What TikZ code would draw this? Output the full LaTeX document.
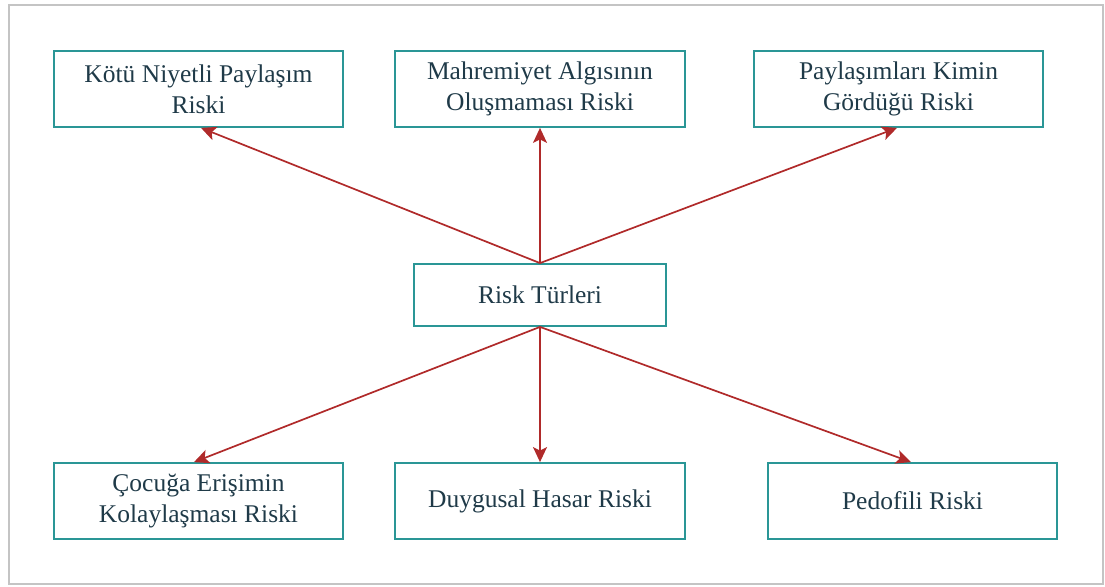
\documentclass[tikz,border=0pt]{standalone}
\usepackage{fontspec}
\setmainfont{Liberation Serif}
\usetikzlibrary{arrows.meta}
\definecolor{boxc}{HTML}{2A9696}
\definecolor{arrc}{HTML}{B02A2A}
\definecolor{txtc}{HTML}{1F3A48}
\definecolor{framec}{HTML}{C4C4C4}
\begin{document}
\begin{tikzpicture}[x=1pt,y=-1pt,
  riskbox/.style={draw=boxc,line width=1.8pt,minimum width=289pt,minimum height=76pt,
    align=center,text=txtc,font=\fontsize{25.5}{31}\selectfont,inner sep=0pt},
  midbox/.style={riskbox,minimum width=290pt},
  centerbox/.style={riskbox,minimum width=252pt,minimum height=62pt},
  arr/.style={draw=arrc,line width=1.7pt,-{Stealth[length=15pt,width=14pt,inset=3.5pt]}}]
\useasboundingbox (0,0) rectangle (1105,586);
\draw[framec,line width=1.5pt] (9,5) rectangle (1103,584);
\node[riskbox] (a) at (198.5,89) {Kötü Niyetli Paylaşım\\Riski};
\node[midbox] (b) at (540,89) {Mahremiyet Algısının\\Oluşmaması Riski};
\node[riskbox] (c) at (898.5,89) {Paylaşımları Kimin\\Gördüğü Riski};
\node[centerbox] (r) at (540,295) {Risk Türleri};
\node[riskbox] (d) at (198.5,501) {Çocuğa Erişimin\\Kolaylaşması Riski};
\node[midbox] (e) at (540,501) {Duygusal Hasar Riski};
\node[riskbox] (f) at (912.5,501) {Pedofili Riski};
\coordinate (rt) at (r.north);
\coordinate (rb) at (r.south);
\draw[arr] (rt) -- (a.south -| 201,0);
\draw[arr] (rt) -- (b.south);
\draw[arr] (rt) -- (c.south -| 897,0);
\draw[arr] (rb) -- (d.north -| 194,0);
\draw[arr] (rb) -- (e.north);
\draw[arr] (rb) -- (f.north -| 911,0);
\end{tikzpicture}
\end{document}
